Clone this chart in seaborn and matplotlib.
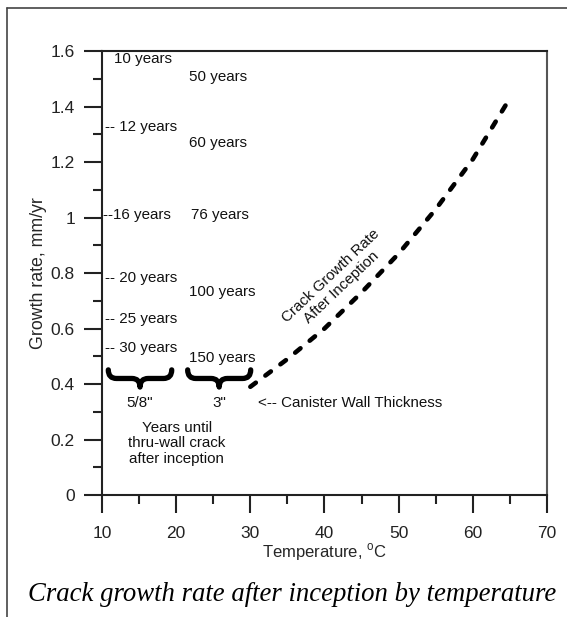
"""Crack growth rate after inception by temperature."""

import matplotlib

matplotlib.use("Agg")
import matplotlib.pyplot as plt
import seaborn as sns
from matplotlib.lines import Line2D
from matplotlib.patches import PathPatch
from matplotlib.path import Path
from matplotlib.ticker import MultipleLocator

# data
temps = [30, 35, 40, 45, 50, 55, 60, 65]
rates = [0.39, 0.49, 0.60, 0.73, 0.87, 1.03, 1.21, 1.43]

# years until thru-wall crack, 5/8" wall (left column) and 3" wall (right column)
thin_labels = ["10 years", "-- 12 years", "--16 years", "-- 20 years", "-- 25 years", "-- 30 years"]
thin_rates = [1.57, 1.325, 1.008, 0.781, 0.633, 0.529]
thick_labels = ["50 years", "60 years", "76 years", "100 years", "150 years"]
thick_rates = [1.507, 1.267, 1.008, 0.733, 0.493]

wall_labels = ['5/8"', '3"']
wall_spans = [(10.85, 19.4), (21.55, 30.05)]

x_ticks = [10, 20, 30, 40, 50, 60, 70]
y_ticks = [0, 0.2, 0.4, 0.6, 0.8, 1.0, 1.2, 1.4, 1.6]
y_tick_labels = ["0", "0.2", "0.4", "0.6", "0.8", "1", "1.2", "1.4", "1.6"]

sns.set_theme(style="ticks")
plt.rcParams["font.family"] = ["Liberation Sans", "DejaVu Sans"]
plt.rcParams["text.color"] = "#111111"

NOTE_SIZE = 10.9


def draw_brace(ax, x0, x1, y, h, q=1.1):
    """Horizontal curly brace pointing down, spanning x0..x1 around y."""
    xc = (x0 + x1) / 2
    top, bot = y + h / 2, y - h / 2
    verts = [
        (x0, top), (x0, y), (x0 + q, y),
        (xc - q, y),
        (xc, y), (xc, bot),
        (xc, y), (xc + q, y),
        (x1 - q, y),
        (x1, y), (x1, top),
    ]
    codes = [
        Path.MOVETO, Path.CURVE3, Path.CURVE3,
        Path.LINETO,
        Path.CURVE3, Path.CURVE3,
        Path.CURVE3, Path.CURVE3,
        Path.LINETO,
        Path.CURVE3, Path.CURVE3,
    ]
    ax.add_patch(PathPatch(Path(verts, codes), fill=False, lw=3.8,
                           color="black", capstyle="round", joinstyle="round"))


fig = plt.figure(figsize=(5.67, 6.17), dpi=100)
ax = fig.add_axes([0.1799, 0.1977, 0.7848, 0.7196])

sns.lineplot(x=temps, y=rates, ax=ax, color="black", lw=3.3)
curve = ax.lines[-1]
curve.set_dashes((1.5, 2.6))
curve.set_dash_capstyle("round")

ax.set_xlim(10, 70)
ax.set_ylim(0, 1.6)
ax.set_xticks(x_ticks)
ax.set_yticks(y_ticks)
ax.set_yticklabels(y_tick_labels)
ax.xaxis.set_minor_locator(MultipleLocator(5))
ax.yaxis.set_minor_locator(MultipleLocator(0.1))
ax.tick_params(which="major", length=13, width=1.5, direction="out",
               labelsize=12.5, colors="#222222", pad=6.5)
ax.tick_params(axis="x", which="major", pad=9.5)
ax.tick_params(which="minor", length=6.5, width=1.5, direction="out", color="#222222")

for side in ["left", "bottom", "top"]:
    ax.spines[side].set_linewidth(1.5)
    ax.spines[side].set_color("#222222")
ax.spines["right"].set_linewidth(1.5)
ax.spines["right"].set_color("#555555")

ax.set_xlabel("Temperature, $^{\\mathregular{o}}$C", fontsize=12, labelpad=0)
ax.set_ylabel("Growth rate, mm/yr", fontsize=12.8, labelpad=3)

for label, rate in zip(thin_labels, thin_rates):
    x = 11.62 if label == "10 years" else (10.18 if label.startswith("--1") else 10.4)
    ax.text(x, rate, label, fontsize=NOTE_SIZE, ha="left", va="center")
for label, rate in zip(thick_labels, thick_rates):
    x = 21.96 if label == "76 years" else 21.68
    ax.text(x, rate, label, fontsize=NOTE_SIZE, ha="left", va="center")

for (x0, x1), label in zip(wall_spans, wall_labels):
    draw_brace(ax, x0, x1, 0.42, 0.062)
    ax.text((x0 + x1) / 2, 0.33, label, fontsize=NOTE_SIZE, ha="center", va="center")

ax.text(31.08, 0.33, "<-- Canister Wall Thickness", fontsize=NOTE_SIZE, ha="left", va="center")
ax.text(20.07, 0.186, "Years until\nthru-wall crack\nafter inception", fontsize=NOTE_SIZE,
        ha="center", va="center", linespacing=1.15)
ax.text(41.6, 0.77, "Crack Growth Rate\nAfter Inception", fontsize=NOTE_SIZE,
        ha="center", va="center", rotation=43.5, rotation_mode="anchor", linespacing=1.15)

fig.text(0.515, 0.036, "Crack growth rate after inception by temperature",
         family=["Liberation Serif", "DejaVu Serif"], style="italic",
         fontsize=19.3, ha="center", va="center", color="black")

# outer frame (only left and top edges are visible in the reference)
fig.add_artist(Line2D([7 / 567, 1], [1 - 8 / 617] * 2, transform=fig.transFigure,
                      color="#444444", lw=1.2))
fig.add_artist(Line2D([7 / 567] * 2, [0, 1 - 8 / 617], transform=fig.transFigure,
                      color="#444444", lw=1.2))

fig.savefig("out.png", dpi=100)
plt.close(fig)
